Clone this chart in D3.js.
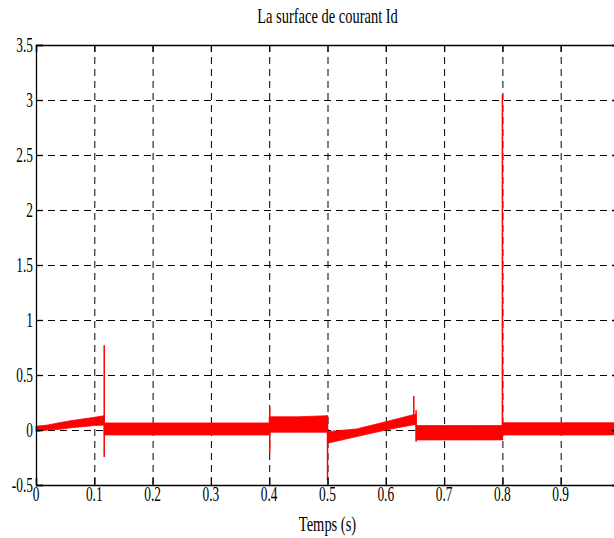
<!DOCTYPE html>
<html>
<head>
<meta charset="utf-8">
<script src="https://cdn.jsdelivr.net/npm/d3@7"></script>
<style>
  body { margin: 0; background: #fff; }
  svg { display: block; }
  text { font-family: "Liberation Serif", "Times New Roman", serif; fill: #000; }
</style>
</head>
<body>
<svg id="chart"></svg>
<script>
// noisy band: time, upper and lower envelope
const bandTime  = [0, 0.02, 0.04, 0.06, 0.08, 0.1, 0.117, 0.117, 0.2, 0.3, 0.4, 0.4, 0.45, 0.5, 0.5, 0.55, 0.6, 0.645, 0.652, 0.652, 0.7, 0.75, 0.8, 0.8, 0.9, 1.0];
const bandUpper = [0.035, 0.045, 0.066, 0.085, 0.1, 0.115, 0.13, 0.064, 0.064, 0.064, 0.064, 0.12, 0.12, 0.13, -0.015, 0.01, 0.075, 0.136, 0.14, 0.04, 0.04, 0.04, 0.04, 0.066, 0.066, 0.066];
const bandLower = [-0.015, 0.0, 0.006, 0.021, 0.03, 0.04, 0.045, -0.045, -0.045, -0.045, -0.045, -0.02, -0.02, -0.02, -0.12, -0.06, 0.0, 0.045, 0.05, -0.09, -0.09, -0.09, -0.09, -0.045, -0.045, -0.045];

// transient spikes
const spikeTime = [0.117, 0.401, 0.5, 0.648, 0.652, 0.8];
const spikeMin  = [-0.245, -0.21, -0.455, 0.05, -0.106, -0.09];
const spikeMax  = [0.77, 0.21, 0.13, 0.31, 0.18, 3.05];

const xTicks = [0, 0.1, 0.2, 0.3, 0.4, 0.5, 0.6, 0.7, 0.8, 0.9, 1];
// the "1" label falls outside the cropped picture, so it is not drawn
const xTickLabels = ["0", "0.1", "0.2", "0.3", "0.4", "0.5", "0.6", "0.7", "0.8", "0.9"];
const yTicks = [-0.5, 0, 0.5, 1, 1.5, 2, 2.5, 3, 3.5];
const yTickLabels = ["-0.5", "0", "0.5", "1", "1.5", "2", "2.5", "3", "3.5"];

const width = 614;
const height = 538;
const margin = { top: 45, left: 36, right: -5, bottom: 53 };
const squeeze = 0.67; // the original serif text is narrow

const svg = d3.select("#chart")
    .attr("width", width)
    .attr("height", height);

const x = d3.scaleLinear()
    .domain([0, 1])
    .range([margin.left, width - margin.right]);

const y = d3.scaleLinear()
    .domain([-0.5, 3.5])
    .range([height - margin.bottom, margin.top]);

// grid
const grid = svg.append("g")
    .attr("stroke", "#000")
    .attr("stroke-width", 1)
    .attr("stroke-dasharray", "7,5");

grid.selectAll(".vg")
    .data(xTicks.slice(1, -1))
    .join("line")
    .attr("x1", d => x(d) + 0.5)
    .attr("x2", d => x(d) + 0.5)
    .attr("y1", y(3.5))
    .attr("y2", y(-0.5));

grid.selectAll(".hg")
    .data(yTicks.slice(1, -1))
    .join("line")
    .attr("x1", x(0))
    .attr("x2", x(1))
    .attr("y1", d => y(d) + 0.5)
    .attr("y2", d => y(d) + 0.5);

// signal
const band = bandTime.map((t, i) => ({ t, hi: bandUpper[i], lo: bandLower[i] }));

svg.append("path")
    .datum(band)
    .attr("fill", "#ff0000")
    .attr("stroke", "#ff0000")
    .attr("stroke-width", 0.8)
    .attr("d", d3.area()
        .x(d => x(d.t))
        .y0(d => y(d.lo))
        .y1(d => y(d.hi)));

svg.append("g")
    .attr("stroke", "#ff0000")
    .attr("stroke-width", 1.5)
    .selectAll("line")
    .data(spikeTime.map((t, i) => ({ t, lo: spikeMin[i], hi: spikeMax[i] })))
    .join("line")
    .attr("x1", d => x(d.t))
    .attr("x2", d => x(d.t))
    .attr("y1", d => y(d.lo))
    .attr("y2", d => y(d.hi));

// axes with inward ticks, labels drawn by hand below
const noLabel = () => "";
svg.append("g")
    .attr("transform", `translate(0,${y(-0.5)})`)
    .call(d3.axisBottom(x).tickValues(xTicks).tickSize(-7).tickFormat(noLabel));
svg.append("g")
    .attr("transform", `translate(0,${y(3.5)})`)
    .call(d3.axisTop(x).tickValues(xTicks).tickSize(-7).tickFormat(noLabel));
svg.append("g")
    .attr("transform", `translate(${x(0)},0)`)
    .call(d3.axisLeft(y).tickValues(yTicks).tickSize(-7).tickFormat(noLabel));
svg.append("g")
    .attr("transform", `translate(${x(1)},0)`)
    .call(d3.axisRight(y).tickValues(yTicks).tickSize(-7).tickFormat(noLabel));

svg.selectAll(".domain, .tick line")
    .attr("stroke", "#000")
    .attr("stroke-width", 1.3);

// tick labels
svg.append("g")
    .selectAll("text")
    .data(xTickLabels)
    .join("text")
    .attr("transform", (d, i) => `translate(${x(xTicks[i])},501) scale(${squeeze},1)`)
    .attr("text-anchor", "middle")
    .style("font-size", "20px")
    .text(d => d);

svg.append("g")
    .selectAll("text")
    .data(yTicks)
    .join("text")
    .attr("transform", d => `translate(33,${y(d) + 7}) scale(${squeeze},1)`)
    .attr("text-anchor", "end")
    .style("font-size", "20px")
    .text((d, i) => yTickLabels[i]);

svg.append("text")
    .attr("transform", `translate(${(x(0) + x(1)) / 2},23) scale(0.69,1)`)
    .attr("text-anchor", "middle")
    .style("font-size", "21px")
    .text("La surface de courant Id");

svg.append("text")
    .attr("transform", `translate(${(x(0) + x(1)) / 2},531) scale(0.69,1)`)
    .attr("text-anchor", "middle")
    .style("font-size", "21px")
    .text("Temps (s)");
</script>
</body>
</html>
